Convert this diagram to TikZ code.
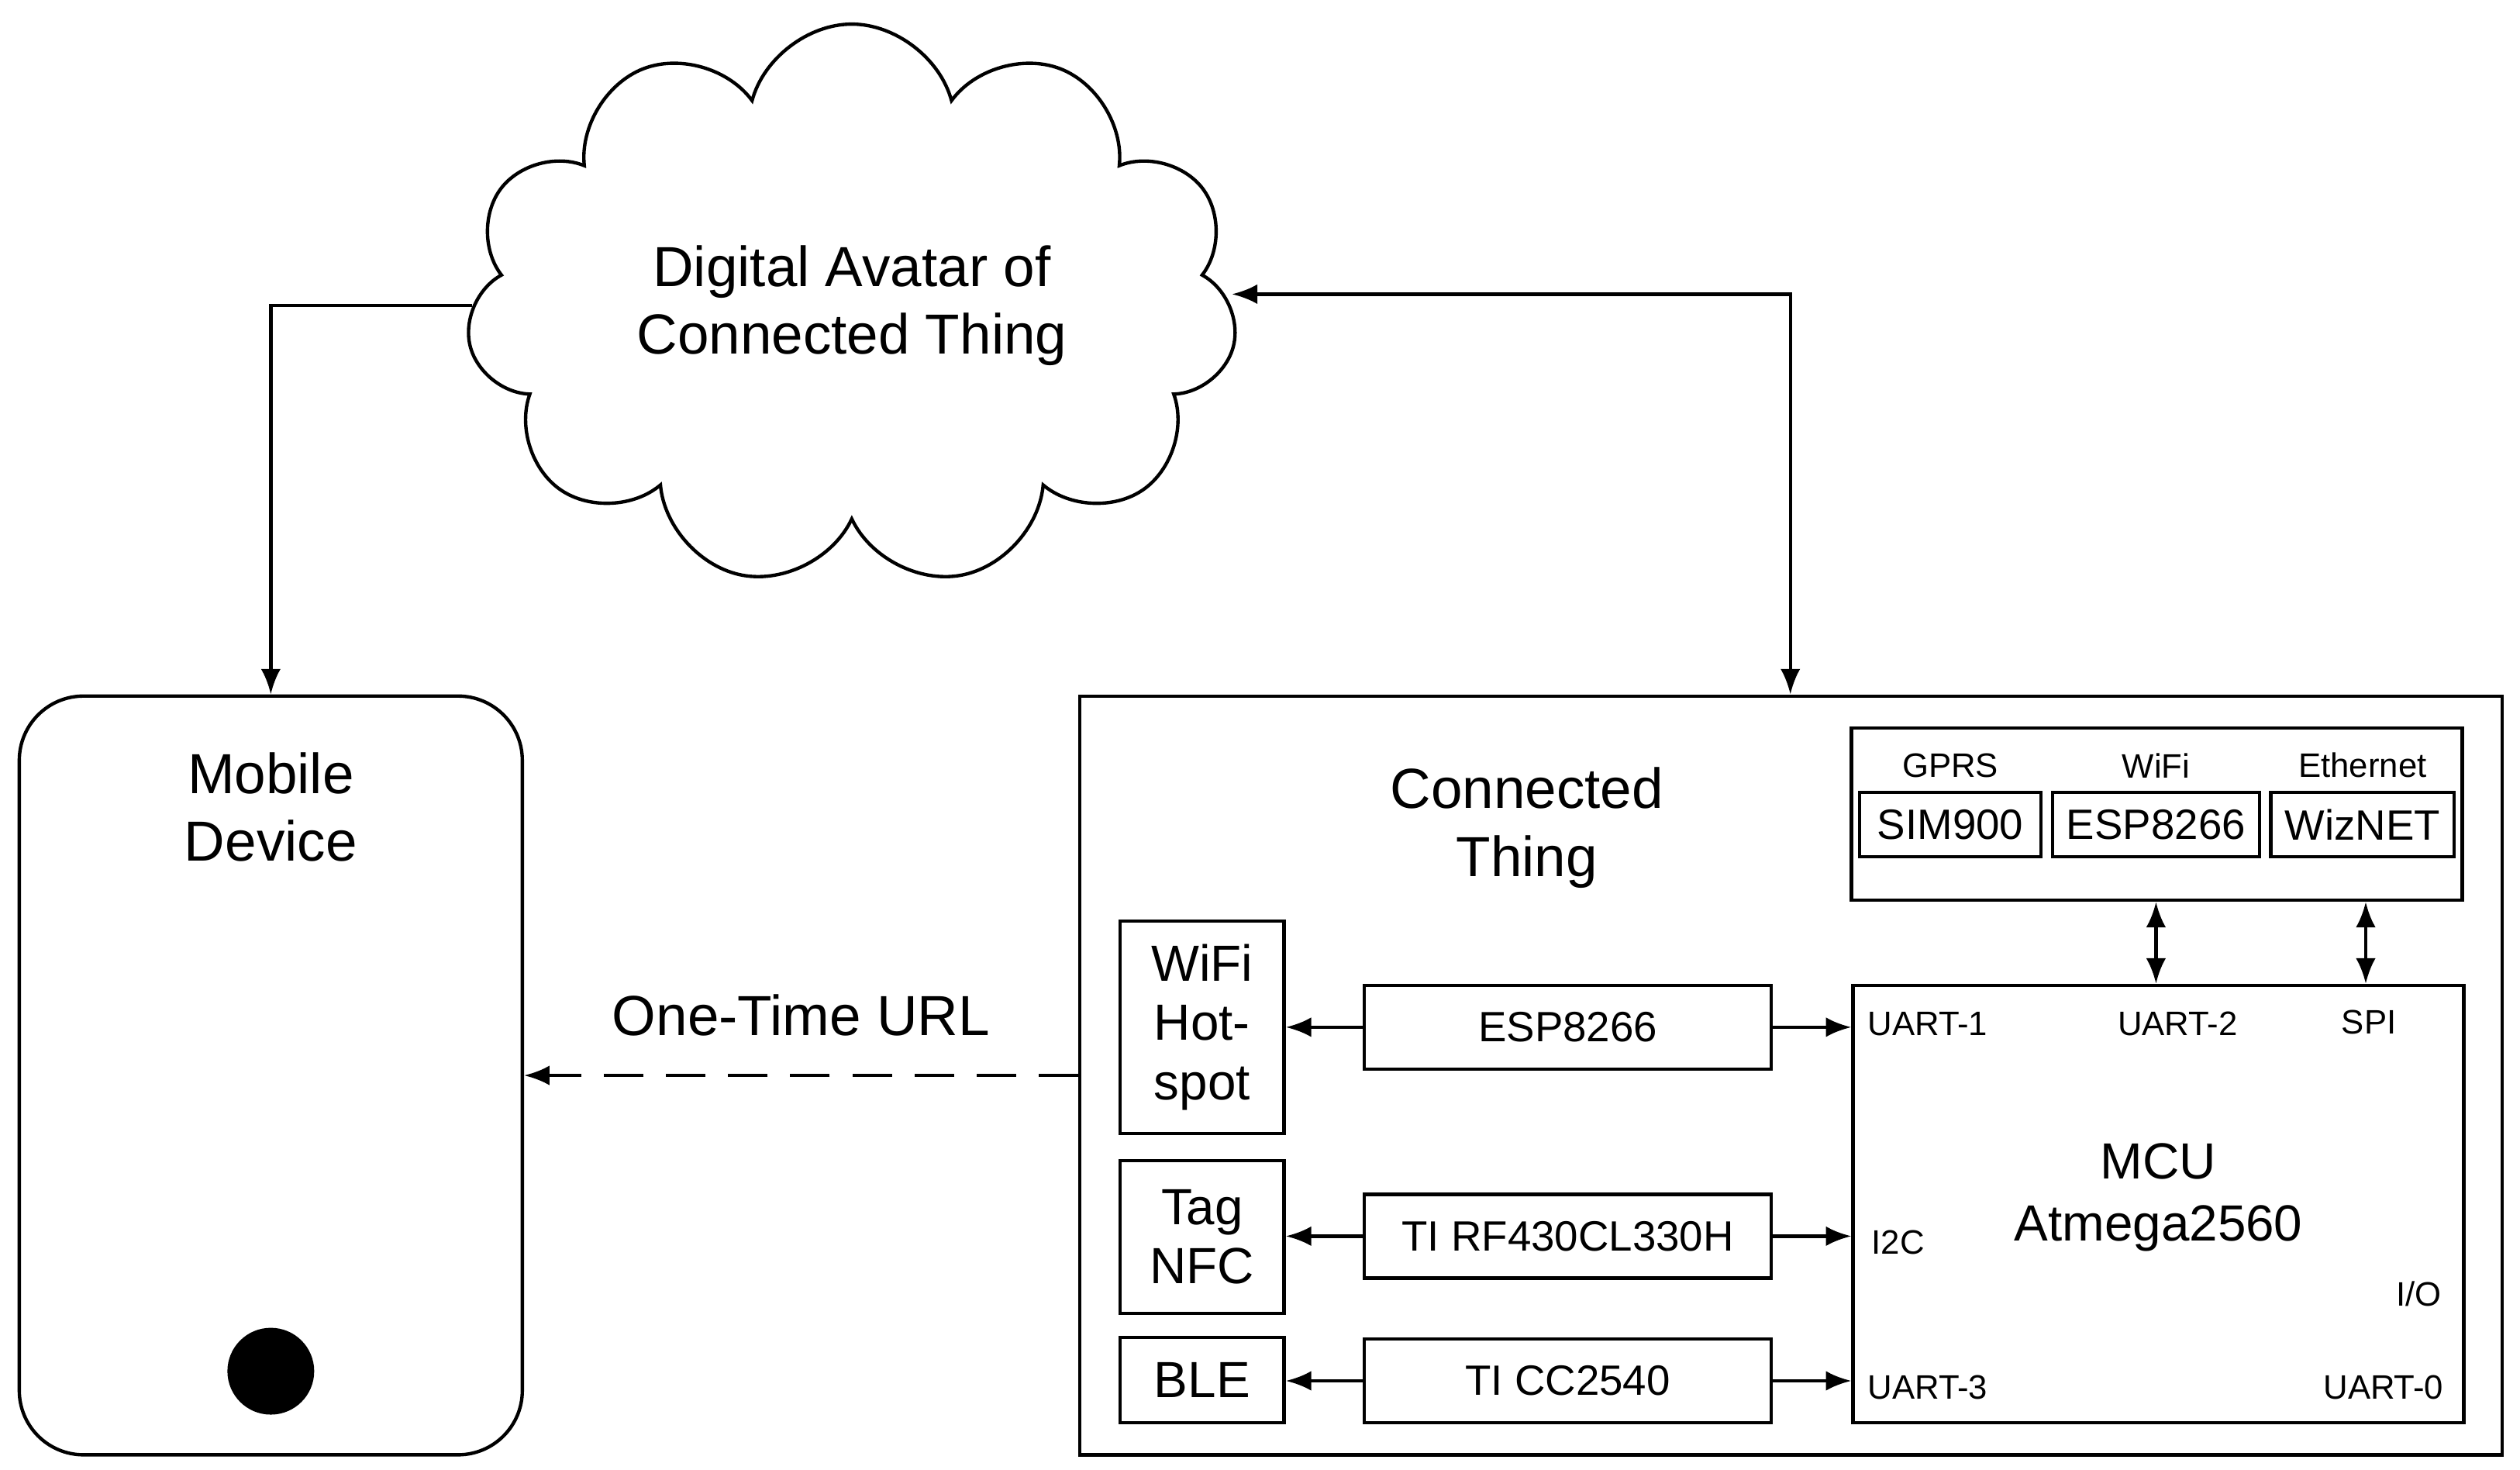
\documentclass[tikz,border=0pt]{standalone}
\usepackage{fontspec}
\setmainfont{Liberation Sans}
\usetikzlibrary{shapes.symbols,arrows.meta,positioning}
\begin{document}
\begin{tikzpicture}[
        box/.style = {draw, line width=1.2pt, align=center, inner sep=0pt},
        lbl/.style = {font=\fontsize{12}{14}\selectfont, inner sep=1pt},
        mod/.style = {box, minimum width=5.06cm, minimum height=1.04cm, font=\fontsize{15}{18}\selectfont},
        side/.style = {box, minimum width=2.04cm, font=\fontsize{18}{21}\selectfont},
        radio/.style = {box, minimum height=0.8cm, font=\fontsize{15}{18}\selectfont},
        link/.style = {line width=1.2pt, -{Latex[length=9pt,width=7pt]}},
        both/.style = {line width=1.2pt, {Latex[length=9pt,width=7pt]}-{Latex[length=9pt,width=7pt]}}]

        \useasboundingbox (0,0) rectangle (31.36,-18.28);

        % cloud and mobile
        \node[cloud, draw, line width=1.2pt, cloud puffs=11, aspect=1.5, minimum width=9.6cm, minimum height=7cm,
              align=center, font=\fontsize{20}{24}\selectfont] (cloud) at (10.6,-3.8) {Digital Avatar of\\Connected Thing};
        \node[box, rounded corners=0.8cm, minimum width=6.26cm, minimum height=9.44cm] (mobile) at (3.37,-13.38) {};
        \node[font=\fontsize{20}{24}\selectfont, align=center, below=0.6cm of mobile.north] (mtext) {Mobile\\Device};
        \node[circle, fill=black, minimum size=1.08cm, inner sep=0pt] (button) at (3.37,-17.06) {};

        % connected thing
        \node[box, minimum width=17.7cm, minimum height=9.44cm] (thing) at (22.29,-13.38) {};
        \node[font=\fontsize{20}{24}\selectfont, align=center] (ttext) at (19,-10.3) {Connected\\Thing};
        \node[box, minimum width=7.6cm, minimum height=2.14cm] (comms) at (26.84,-10.13) {};
        \node[radio, minimum width=2.26cm] (sim) at (24.27,-10.26) {SIM900};
        \node[radio, minimum width=2.58cm] (esp2) at (26.83,-10.26) {ESP8266};
        \node[radio, minimum width=2.28cm] (wiz) at (29.4,-10.26) {WizNET};
        \node[lbl, above=0.12cm of sim] {GPRS};
        \node[lbl, above=0.12cm of esp2] {WiFi};
        \node[lbl, above=0.12cm of wiz] {Ethernet};

        \node[box, minimum width=7.6cm, minimum height=5.44cm] (mcu) at (26.86,-14.98) {};
        \node[font=\fontsize{18}{22}\selectfont, align=center] (mtxt) at (26.86,-14.9) {MCU\\Atmega2560};
        \node[lbl, anchor=west] (u1) at (23.2,-12.74) {UART-1};
        \node[lbl] (u2) at (27.1,-12.74) {UART-2};
        \node[lbl] (spi) at (29.48,-12.72) {SPI};
        \node[lbl, anchor=west] (i2c) at (23.25,-15.46) {I2C};
        \node[lbl] (io) at (30.1,-16.1) {I/O};
        \node[lbl, anchor=west] (u3) at (23.2,-17.26) {UART-3};
        \node[lbl] (u0) at (29.66,-17.26) {UART-0};

        \node[side, minimum height=2.64cm] (hot) at (14.96,-12.78) {WiFi\\Hot-\\spot};
        \node[side, minimum height=1.9cm] (nfc) at (14.96,-15.39) {Tag\\NFC};
        \node[side, minimum height=1.06cm] (ble) at (14.96,-17.17) {BLE};
        \node[mod] (esp) at (19.51,-12.78) {ESP8266};
        \node[mod] (rf) at (19.51,-15.38) {TI RF430CL330H};
        \node[mod] (cc) at (19.51,-17.18) {TI CC2540};

        \coordinate (top) at (22.28,0);

        % connectors
        \draw[link] (cloud.west) -| (mobile.north);
        \draw[both] (cloud.east |- 0,-3.66) -| (thing.north -| top);
        \draw[link, dashed, dash pattern=on 14pt off 8pt] (thing.west |- 0,-13.38) -- (mobile.east |- 0,-13.38)
            node[midway, above=0.35cm, font=\fontsize{20}{24}\selectfont] {One-Time URL};
        \foreach \m/\s in {esp/hot, rf/nfc, cc/ble} {
            \draw[link] (\m.west) -- (\s.east |- \m.west);
            \draw[link] (\m.east) -- (mcu.west |- \m.east);
        }
        \draw[both] (esp2.center |- comms.south) -- (esp2.center |- mcu.north);
        \draw[both] (29.44,0 |- comms.south) -- (29.44,0 |- mcu.north);
\end{tikzpicture}
\end{document}
